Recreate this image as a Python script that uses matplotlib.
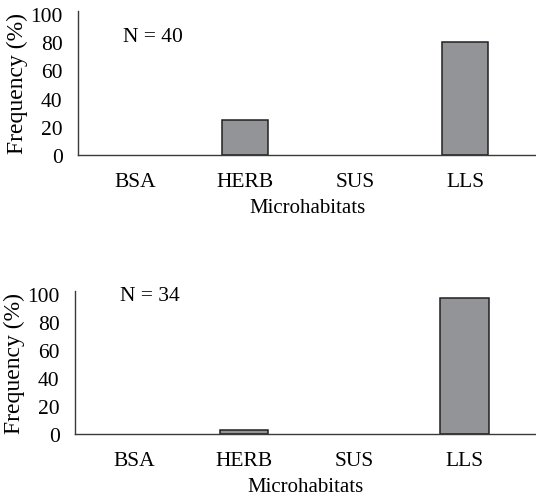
import numpy as np
import matplotlib.pyplot as plt

plt.rcParams['font.family'] = ['Liberation Serif', 'DejaVu Serif']

# Data
categories = ['BSA', 'HERB', 'SUS', 'LLS']
freq_top = [0, 25, 0, 80]        # N = 40
freq_bottom = [0, 2.9, 0, 97.1]  # N = 34
yticks = [0, 20, 40, 60, 80, 100]

fig = plt.figure(figsize=(5.36, 5.02), dpi=100, facecolor='white')

panels = [
    # (axes rect, values, N label, xlim, bar width, text pos)
    ([78 / 536, 1 - 156 / 502, 458 / 536, 144 / 502], freq_top, 'N = 40',
     (-0.518, 3.645), 0.42, (-0.11, 84)),
    ([75 / 536, 1 - 435 / 502, 461 / 536, 143 / 502], freq_bottom, 'N = 34',
     (-0.536, 3.65), 0.44, (-0.13, 98.5)),
]

x = np.arange(len(categories))
for rect, vals, ntxt, xlim, bw, tpos in panels:
    ax = fig.add_axes(rect)
    # no outline for empty categories
    lw = [1.1 if v > 0 else 0 for v in vals]
    ax.bar(x, vals, width=bw, color='#929497', edgecolor='#231f20', linewidth=lw)
    ax.set_xlim(*xlim)
    ax.set_ylim(0, 102)
    ax.set_xticks(x)
    ax.set_xticklabels(categories)
    ax.set_yticks(yticks)
    ax.tick_params(axis='both', length=0, labelsize=15.5)
    ax.tick_params(axis='x', pad=12)
    ax.tick_params(axis='y', pad=11)
    for s in ['top', 'right']:
        ax.spines[s].set_visible(False)
    for s in ['left', 'bottom']:
        ax.spines[s].set_color('#3a3a3a')
        ax.spines[s].set_linewidth(1.0)
    ax.set_xlabel('Microhabitats', fontsize=15, labelpad=5)
    ax.set_ylabel('Frequency (%)', fontsize=17, labelpad=2)
    ax.text(tpos[0], tpos[1], ntxt, fontsize=15.5, ha='left', va='center')

fig.savefig('out.png', dpi=100)
